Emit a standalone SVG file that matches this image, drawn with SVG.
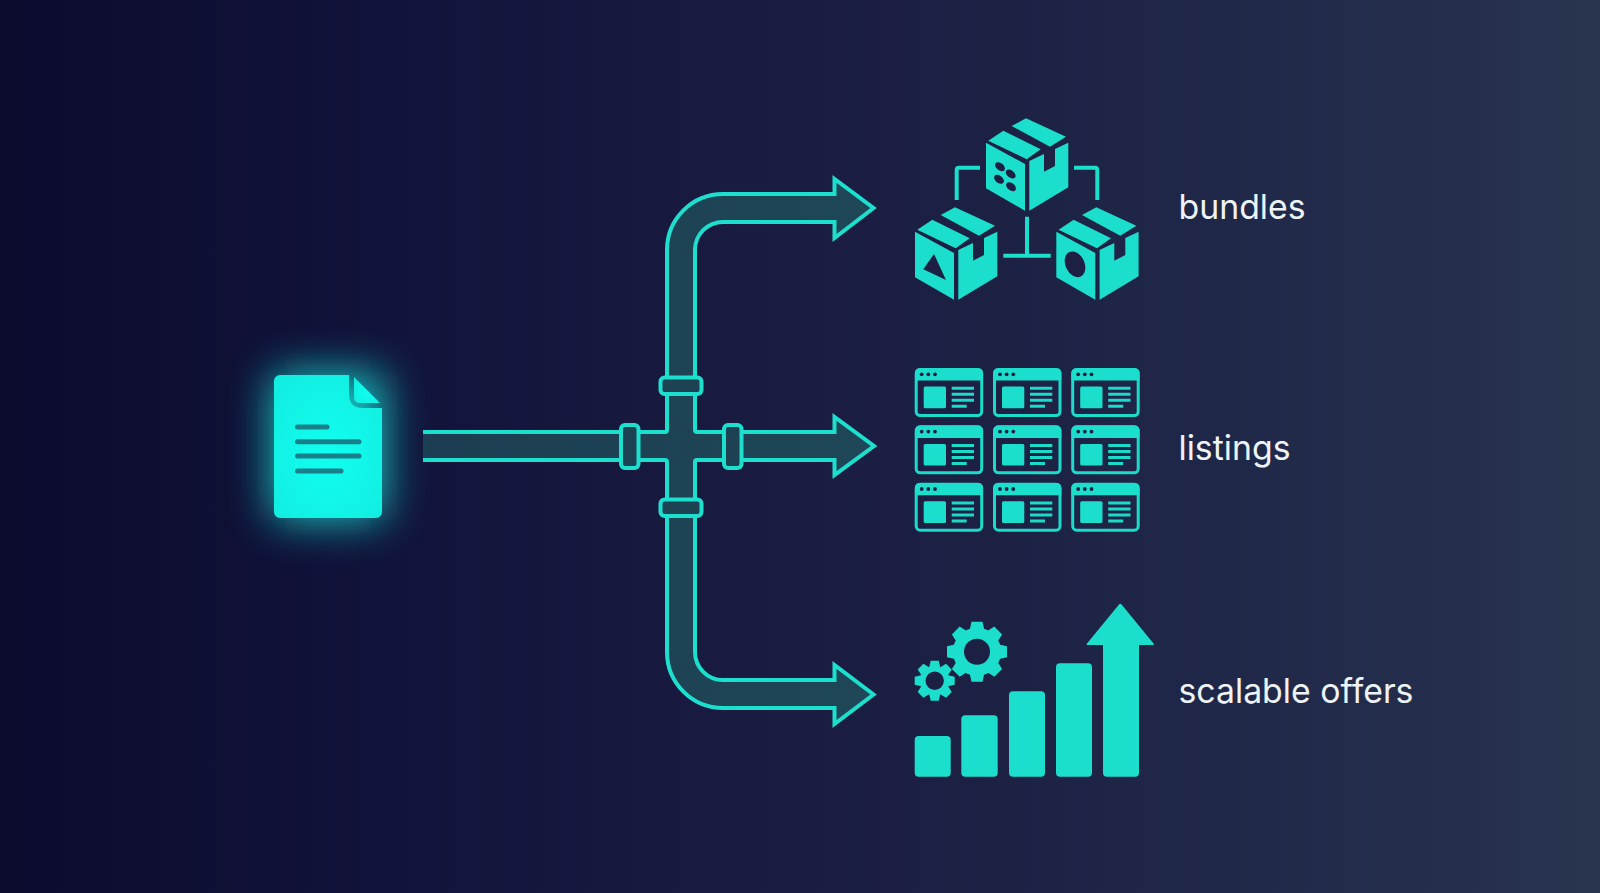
<svg xmlns="http://www.w3.org/2000/svg" xmlns:xlink="http://www.w3.org/1999/xlink" width="1600" height="893" viewBox="0 0 1600 893">
<style>
.t{fill:#eef3f6;font-family:Inter,"Liberation Sans",sans-serif;font-size:33.8px;font-weight:400}
.i{fill:#1bdfcc}
.l{fill:none;stroke:#1bdfcc;stroke-width:4;stroke-linejoin:round}
.p{fill:url(#pf);stroke:#1cdfce;stroke-width:4;stroke-linejoin:miter}
.c{fill:#1d4254;stroke:#1cdfce;stroke-width:4}
.h{fill:#1d1f44}
.w{fill:none;stroke:#1bdcca;stroke-width:3}
.tx{stroke:#1bdcca;stroke-width:3;fill:none}
.d{stroke:#17808a;stroke-width:5;stroke-linecap:round;fill:none}
</style>
<defs>
<linearGradient id="bg" x1="0" y1="0" x2="1" y2="0">
<stop offset="0" stop-color="#0b0b2e"/><stop offset="0.25" stop-color="#12133a"/><stop offset="0.5" stop-color="#1a1c41"/><stop offset="0.75" stop-color="#1f2748"/><stop offset="0.92" stop-color="#252f4d"/><stop offset="1" stop-color="#29354f"/>
</linearGradient>
<linearGradient id="pf" gradientUnits="userSpaceOnUse" x1="423" y1="0" x2="876" y2="0"><stop offset="0" stop-color="#1c3d51"/><stop offset="1" stop-color="#1e4757"/></linearGradient>
<filter id="glow" x="-100%" y="-100%" width="300%" height="300%"><feGaussianBlur stdDeviation="22"/></filter>
<radialGradient id="docf" cx="0.5" cy="0.55" r="0.6"><stop offset="0" stop-color="#10fff0"/><stop offset="1" stop-color="#12efe2"/></radialGradient>
<g id="box">
<polygon points="986,142.7 1025,164 1025,210.7 986,188.3"/>
<path d="M1029.3,161 L1044,154 V171.7 L1055,166 V149 L1068.3,142.7 V187.3 L1029.3,210.7 Z"/>
<polygon points="988.3,140.7 1003.3,130.7 1040.7,149.3 1026.7,159.3"/>
<polygon points="1011.7,126 1026,118.3 1066,136.7 1050,146.7"/>
</g>
<g id="card">
<rect x="1.2" y="1.2" width="65.5" height="46" rx="4" class="w"/>
<path class="i" d="M0,12.3 V4.5 A4.5,4.5 0 0 1 4.5,0 H63.5 A4.5,4.5 0 0 1 68,4.5 V12.3 Z"/>
<circle cx="6.7" cy="6" r="1.9" class="h"/><circle cx="13.3" cy="6" r="1.9" class="h"/><circle cx="20" cy="6" r="1.9" class="h"/>
<rect x="8.7" y="18.3" width="22.3" height="21.7" rx="1.5" class="i"/>
<path class="tx" d="M36.7,20 H59 M36.7,26 H59 M36.7,32 H59 M36.7,38 H51.7"/>
</g>
<polygon id="t1" points="-5.5,-30 5.5,-30 7.5,-21 -7.5,-21"/>
<polygon id="t2" points="-4,-20 4,-20 5.5,-13.5 -5.5,-13.5"/>
</defs>
<rect id="background" width="1600" height="893" fill="url(#bg)"/>

<g id="connectors">
<path class="p" d="M423,432 H665 Q667,432 667,430 V250 A56,56 0 0 1 723,194 H834.5 V179 L873.5,208 L834.5,238 V222 H723 A28,28 0 0 0 695,250 V430 Q695,432 697,432 H834.5 V417 L874,446 L834.5,475 V460 H697 Q695,460 695,462 V652 A28,28 0 0 0 723,680 H834.5 V665 L873.5,694.5 L834.5,724 V708 H723 A56,56 0 0 1 667,652 V462 Q667,460 665,460 H423"/>
<rect class="c" x="660.5" y="377.5" width="41" height="16.5" rx="4"/>
<rect class="c" x="660.5" y="499.5" width="41" height="16.5" rx="4"/>
<rect class="c" x="621" y="425" width="17.5" height="43" rx="4"/>
<rect class="c" x="724" y="425" width="17.5" height="43" rx="4"/>
</g>

<g id="document">
<rect x="272" y="373" width="112" height="147" rx="8" fill="#12f4e6" opacity="0.8" filter="url(#glow)"/>
<path fill="url(#docf)" d="M280,375 H349 V394 Q349,408 363,408 H382 V512 A6,6 0 0 1 376,518 H280 A6,6 0 0 1 274,512 V381 A6,6 0 0 1 280,375 Z"/>
<path fill="url(#docf)" d="M354,377 L380,403 H360 Q354,403 354,397 Z"/>
<path class="d" d="M297.5,427 H327 M297.5,441.7 H359 M297.5,456 H359 M297.5,471 H341"/>
</g>

<g id="bundles">
<use xlink:href="#box" href="#box" class="i"/>
<use xlink:href="#box" href="#box" class="i" transform="translate(-71,89)"/>
<use xlink:href="#box" href="#box" class="i" transform="translate(70.3,89)"/>
<g class="h">
<ellipse cx="1000" cy="166.7" rx="5.6" ry="3.6" transform="rotate(38 1000 166.7)"/>
<ellipse cx="1010.7" cy="174" rx="5.6" ry="3.6" transform="rotate(38 1010.7 174)"/>
<ellipse cx="999" cy="179.3" rx="5.6" ry="3.6" transform="rotate(38 999 179.3)"/>
<ellipse cx="1011" cy="186.7" rx="5.6" ry="3.6" transform="rotate(38 1011 186.7)"/>
<polygon points="934,254 923.3,269.3 946,280"/>
<ellipse cx="1075" cy="264.3" rx="9.5" ry="13.5" transform="rotate(-25 1075 264.3)"/>
</g>
<path class="l" d="M956.7,200 V170 Q956.7,167.7 959,167.7 H980"/>
<path class="l" d="M1074,167.7 H1095 Q1097.3,167.7 1097.3,170 V200"/>
<path class="l" d="M1027,216.7 V255.7 M1003.3,255.7 H1050.7"/>
</g>

<g id="listings">
<use href="#card" transform="translate(915,368.3)"/>
<use href="#card" transform="translate(993.3,368.3)"/>
<use href="#card" transform="translate(1071.5,368.3)"/>
<use href="#card" transform="translate(915,425.6)"/>
<use href="#card" transform="translate(993.3,425.6)"/>
<use href="#card" transform="translate(1071.5,425.6)"/>
<use href="#card" transform="translate(915,483)"/>
<use href="#card" transform="translate(993.3,483)"/>
<use href="#card" transform="translate(1071.5,483)"/>
</g>

<g id="offers">
<rect class="i" x="914.7" y="736" width="36" height="40.7" rx="4"/>
<rect class="i" x="961.3" y="715.3" width="36.4" height="61.4" rx="4"/>
<rect class="i" x="1009" y="691.3" width="36" height="85.4" rx="4"/>
<rect class="i" x="1056" y="663.3" width="36" height="113.4" rx="4"/>
<path class="i" d="M1103,645 H1087.5 Q1086,645 1087,643.5 L1119,604.5 Q1120.3,603 1121.6,604.5 L1153.5,643.5 Q1154.5,645 1153,645 H1139 V772.7 A4,4 0 0 1 1135,776.7 H1107 A4,4 0 0 1 1103,772.7 Z"/>
<g id="gear-large" transform="translate(977,651.7)" class="i">
<circle r="18.5" fill="none" stroke="#1bdfcc" stroke-width="11"/>
<use href="#t1"/><use href="#t1" transform="rotate(45)"/><use href="#t1" transform="rotate(90)"/><use href="#t1" transform="rotate(135)"/><use href="#t1" transform="rotate(180)"/><use href="#t1" transform="rotate(225)"/><use href="#t1" transform="rotate(270)"/><use href="#t1" transform="rotate(315)"/>
</g>
<g id="gear-small" transform="translate(934.7,680.7)" class="i">
<circle r="12" fill="none" stroke="#1bdfcc" stroke-width="5.6"/>
<use href="#t2"/><use href="#t2" transform="rotate(45)"/><use href="#t2" transform="rotate(90)"/><use href="#t2" transform="rotate(135)"/><use href="#t2" transform="rotate(180)"/><use href="#t2" transform="rotate(225)"/><use href="#t2" transform="rotate(270)"/><use href="#t2" transform="rotate(315)"/>
</g>
</g>

<g id="labels">
<text class="t" x="1178.5" y="218.5">bundles</text>
<text class="t" x="1178.5" y="459.5">listings</text>
<text class="t" x="1178.5" y="702.5">scalable offers</text>
</g>
</svg>
